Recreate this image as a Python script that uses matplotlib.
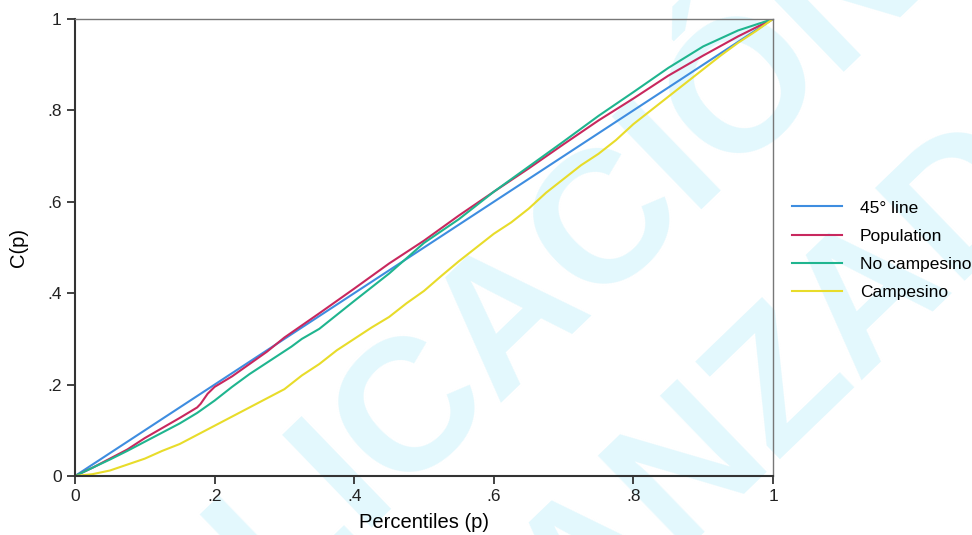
"""
Concentration curves: population, no campesino, campesino vs 45° line.
"""
import matplotlib
matplotlib.use("Agg")
import matplotlib.pyplot as plt

plt.rcParams["font.family"] = ["Liberation Sans", "DejaVu Sans"]

# --- data ---
diag_p = [0.0, 1.0]
diag_c = [0.0, 1.0]

pop_p = [0, .025, .05, .075, .1, .125, .15, .175, .18, .19, .2, .225, .25, .275,
         .3, .35, .4, .45, .5, .55, .6, .65, .7, .75, .8, .85, .9, .95, 1]
pop_c = [0, .018, .038, .058, .083, .105, .127, .150, .158, .180, .195, .218, .245, .272,
         .303, .356, .410, .465, .515, .570, .622, .673, .726, .778, .826, .876, .920, .962, 1]

nocamp_p = [0, .025, .05, .075, .1, .125, .15, .175, .2, .225, .25, .275, .3, .31, .325,
            .35, .4, .45, .5, .55, .6, .65, .7, .75, .8, .85, .9, .95, 1]
nocamp_c = [0, .018, .036, .055, .075, .095, .115, .138, .165, .195, .223, .248, .273, .283, .300,
            .322, .383, .443, .510, .562, .622, .677, .732, .788, .840, .893, .940, .975, 1]

camp_p = [0, .025, .05, .075, .1, .125, .15, .175, .2, .225, .25, .275, .3, .325, .35,
          .375, .4, .425, .45, .475, .5, .525, .55, .575, .6, .625, .65, .675, .7, .725,
          .75, .775, .8, .825, .85, .875, .9, .925, .95, .975, 1]
camp_c = [0, .004, .012, .025, .038, .055, .070, .090, .110, .130, .150, .170, .190, .220, .245,
          .275, .300, .325, .348, .378, .405, .438, .470, .500, .530, .555, .585, .620, .650, .680,
          .705, .735, .770, .800, .830, .860, .890, .920, .948, .973, 1]

xticks = [0, .2, .4, .6, .8, 1]
tick_labels = ["0", ".2", ".4", ".6", ".8", "1"]

fig = plt.figure(figsize=(9.72, 5.35), dpi=100)
fig.patch.set_facecolor("white")

# watermark behind the plot
wm = dict(rotation=44, fontsize=135, fontweight="bold", color="#e3f8fd",
          ha="center", va="center", zorder=-1, rotation_mode="anchor")
fig.text(428 / 972, 1 - 394 / 535, "PUBLICACIÓN", **wm)
fig.text(748 / 972, 1 - 418 / 535, "AVANZADA", **wm)

ax = fig.add_axes([75 / 972, 59 / 535, 698 / 972, 457 / 535])
ax.set_facecolor("none")

ax.plot(diag_p, diag_c, color="#3e8de0", linewidth=1.5, label="45° line")
ax.plot(pop_p, pop_c, color="#c8285e", linewidth=1.5, label="Population")
ax.plot(nocamp_p, nocamp_c, color="#1fb58f", linewidth=1.5, label="No campesino")
ax.plot(camp_p, camp_c, color="#e8dc2a", linewidth=1.5, label="Campesino")

ax.set_xlim(0, 1)
ax.set_ylim(0, 1)
ax.set_xticks(xticks)
ax.set_xticklabels(tick_labels)
ax.set_yticks(xticks)
ax.set_yticklabels(tick_labels)
ax.tick_params(direction="out", length=6, width=1.2, labelsize=12.5, colors="#222222")

for side in ("left", "bottom"):
    ax.spines[side].set_linewidth(1.5)
    ax.spines[side].set_color("#333333")
for side in ("top", "right"):
    ax.spines[side].set_linewidth(1.0)
    ax.spines[side].set_color("#777777")

ax.set_xlabel("Percentiles (p)", fontsize=14.5, labelpad=6)
ax.set_ylabel("C(p)", fontsize=14.5, labelpad=14)

ax.legend(loc="center left", bbox_to_anchor=(1.005, 0.494), frameon=False,
          fontsize=12.5, handlelength=2.9, handletextpad=1.0, labelspacing=0.75)

fig.savefig("out.png", dpi=100)
